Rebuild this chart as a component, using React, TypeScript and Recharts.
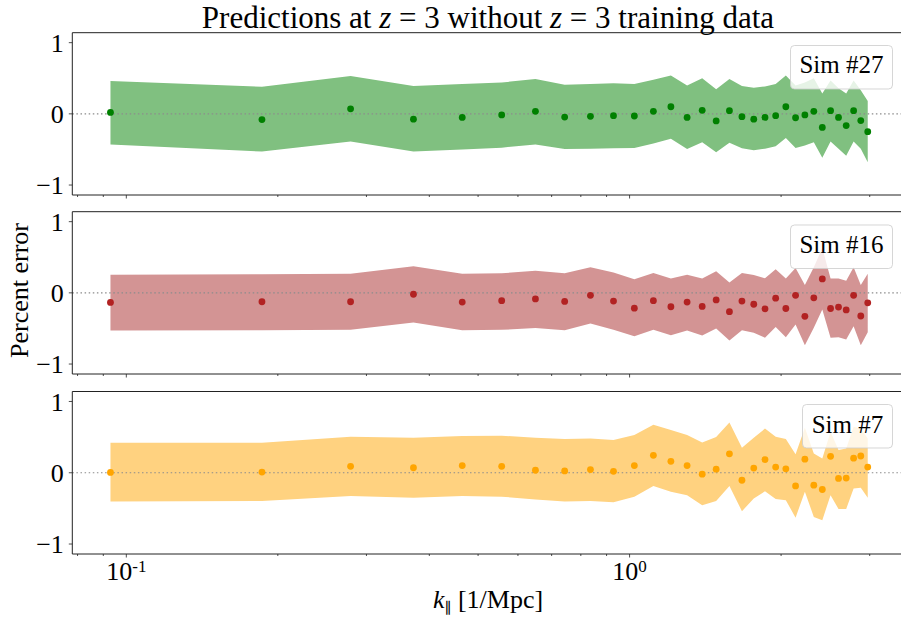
import React from 'react';
import { ComposedChart, Area, Scatter, XAxis, YAxis, ReferenceLine } from 'recharts';

// k_parallel bins [1/Mpc]
const kValues = [
  0.093, 0.186, 0.279, 0.372, 0.465, 0.557, 0.65, 0.743, 0.836, 0.929, 1.022, 1.115, 1.208, 1.301, 1.394, 1.486,
  1.579, 1.672, 1.765, 1.858, 1.951, 2.044, 2.137, 2.23, 2.323, 2.415, 2.508, 2.601, 2.694, 2.787, 2.88, 2.973,
];

// Sim #27
const sim27Mean = [
  0.02, -0.08, 0.07, -0.075, -0.05, -0.015, 0.035, -0.045, -0.035, -0.025, -0.03, 0.035, 0.1, -0.05, 0.05, -0.1,
  0.045, -0.04, -0.075, -0.05, -0.025, 0.1, -0.055, -0.015, 0.035, -0.19, 0.045, -0.05, -0.165, 0.045, -0.095, -0.25,
];
const sim27Hi = [
  0.46, 0.38, 0.53, 0.39, 0.42, 0.44, 0.49, 0.41, 0.42, 0.43, 0.42, 0.48, 0.54, 0.4, 0.5, 0.345,
  0.49, 0.39, 0.365, 0.385, 0.42, 0.54, 0.4, 0.44, 0.5, 0.285, 0.47, 0.36, 0.285, 0.47, 0.33, 0.18,
];
const sim27Lo = [
  -0.43, -0.53, -0.39, -0.53, -0.5, -0.475, -0.43, -0.495, -0.49, -0.485, -0.48, -0.415, -0.35, -0.495, -0.4, -0.54,
  -0.405, -0.485, -0.51, -0.49, -0.455, -0.34, -0.48, -0.445, -0.4, -0.615, -0.39, -0.49, -0.59, -0.39, -0.49, -0.68,
];

// Sim #16
const sim16Mean = [
  -0.135, -0.125, -0.125, -0.02, -0.13, -0.11, -0.085, -0.12, -0.035, -0.115, -0.215, -0.11, -0.195, -0.13, -0.19, -0.1,
  -0.265, -0.115, -0.16, -0.225, -0.075, -0.22, -0.035, -0.33, -0.07, 0.195, -0.22, -0.2, -0.24, -0.035, -0.325, -0.14,
];
const sim16Hi = [
  0.255, 0.26, 0.27, 0.375, 0.27, 0.275, 0.31, 0.275, 0.36, 0.285, 0.19, 0.28, 0.2, 0.255, 0.2, 0.305,
  0.145, 0.28, 0.25, 0.205, 0.33, 0.2, 0.35, 0.11, 0.36, 0.63, 0.2, 0.2, 0.17, 0.36, 0.11, 0.27,
];
const sim16Lo = [
  -0.53, -0.525, -0.52, -0.415, -0.525, -0.52, -0.495, -0.525, -0.43, -0.52, -0.61, -0.52, -0.595, -0.53, -0.6, -0.5,
  -0.67, -0.525, -0.56, -0.63, -0.48, -0.625, -0.445, -0.735, -0.49, -0.235, -0.63, -0.625, -0.655, -0.47, -0.735, -0.555,
];

// Sim #7
const sim7Mean = [
  0.005, 0.01, 0.09, 0.07, 0.1, 0.09, 0.035, 0.025, 0.045, 0.02, 0.1, 0.245, 0.16, 0.1, -0.02, 0.05,
  0.265, -0.105, 0.065, 0.185, 0.08, 0.055, -0.185, 0.19, -0.175, -0.235, 0.23, -0.08, -0.075, 0.205, 0.235, 0.08,
];
const sim7Hi = [
  0.42, 0.42, 0.505, 0.49, 0.515, 0.52, 0.49, 0.475, 0.48, 0.46, 0.53, 0.675, 0.6, 0.53, 0.425, 0.5,
  0.705, 0.35, 0.49, 0.62, 0.505, 0.475, 0.26, 0.63, 0.27, 0.2, 0.575, 0.32, 0.34, 0.645, 0.62, 0.48,
];
const sim7Lo = [
  -0.405, -0.395, -0.325, -0.35, -0.325, -0.335, -0.375, -0.405, -0.395, -0.415, -0.335, -0.185, -0.265, -0.315, -0.455, -0.395,
  -0.185, -0.54, -0.36, -0.26, -0.37, -0.385, -0.63, -0.265, -0.62, -0.665, -0.315, -0.51, -0.51, -0.22, -0.21, -0.35,
];

const xTicks = [0.08, 0.09, 0.1, 0.2, 0.3, 0.4, 0.5, 0.6, 0.7, 0.8, 0.9, 1, 2, 3];
const xMajorTicks = [0.1, 1];
const xMajorExponents = ['-1', '0'];
const yTicks = [-1, 0, 1];

const FONT = '"Liberation Serif", "DejaVu Serif", serif';
const X_DOMAIN: [number, number] = [0.0781, 3.537];
const Y_DOMAIN: [number, number] = [-1.14, 1.14];

const buildRows = (mean: number[], lo: number[], hi: number[]) =>
  kValues.map((k, i) => ({ k, y: mean[i], band: [lo[i], hi[i]] }));

const panels = [
  { name: 'Sim #27', rows: buildRows(sim27Mean, sim27Lo, sim27Hi), dot: '#008000', fill: '#80c080', top: 0, height: 205, marginTop: 32.7, bottom: 5, xAxisHeight: 5, labels: false },
  { name: 'Sim #16', rows: buildRows(sim16Mean, sim16Lo, sim16Hi), dot: '#b22222', fill: '#d39494', top: 200, height: 184, marginTop: 11.7, bottom: 5, xAxisHeight: 5, labels: false },
  { name: 'Sim #7', rows: buildRows(sim7Mean, sim7Lo, sim7Hi), dot: '#ffa500', fill: '#ffd280', top: 380, height: 239, marginTop: 11.5, bottom: 0, xAxisHeight: 65, labels: true },
];

// legend boxes
const legendBoxes = [
  { x: 790.5, y: 45.5, w: 102, h: 43.5, base: 73.3 },
  { x: 790.5, y: 225, w: 102, h: 43.5, base: 253.3 },
  { x: 802.5, y: 404.5, w: 90, h: 43.5, base: 433.3 },
];

const XTick = (props: any) => {
  const { x, y, payload, showLabel } = props;
  const idx = xMajorTicks.indexOf(payload.value);
  const len = idx >= 0 ? 3.5 : 2;
  return (
    <g>
      <line x1={x} x2={x} y1={y} y2={y + len} stroke="#222" strokeWidth={0.8} />
      {showLabel && idx >= 0 && (
        <text x={x} y={y + 26} textAnchor="middle" fontFamily={FONT} fontSize={26} fill="#000">
          10<tspan dy={-8} fontSize={17}>{xMajorExponents[idx]}</tspan>
        </text>
      )}
    </g>
  );
};

const fmtY = (v: number) => (v < 0 ? '\u2212' + Math.abs(v) : String(v));

export default function App() {
  return (
    <div style={{ position: 'fixed', left: 0, top: 0, width: 901, height: 619, overflow: 'hidden', background: '#fff' }}>
      {panels.map((p) => (
        <div key={p.name} style={{ position: 'absolute', left: 0, top: p.top }}>
          <ComposedChart width={910} height={p.height} data={p.rows} margin={{ top: p.marginTop, right: 4.3, bottom: p.bottom, left: 0 }}>
            <XAxis
              dataKey="k"
              type="number"
              scale="log"
              domain={X_DOMAIN}
              allowDataOverflow
              ticks={xTicks}
              interval={0}
              height={p.xAxisHeight}
              tickSize={0}
              tickMargin={0}
              tickLine={false}
              axisLine={{ stroke: '#222', strokeWidth: 1 }}
              tick={<XTick showLabel={p.labels} />}
            />
            <YAxis
              type="number"
              domain={Y_DOMAIN}
              allowDataOverflow
              ticks={yTicks}
              interval={0}
              width={72.3}
              tickSize={3.5}
              tickMargin={5}
              tickFormatter={fmtY}
              axisLine={{ stroke: '#222', strokeWidth: 1 }}
              tickLine={{ stroke: '#222', strokeWidth: 0.8 }}
              tick={{ fontFamily: FONT, fontSize: 26, fill: '#000' }}
            />
            <Area type="linear" dataKey="band" stroke="none" fill={p.fill} fillOpacity={1} isAnimationActive={false} />
            <ReferenceLine y={0} stroke="#8c8c8c" strokeWidth={1.2} strokeDasharray="1.5 2.6" />
            <ReferenceLine y={Y_DOMAIN[1]} stroke="#222" strokeWidth={1} />
            <Scatter
              data={p.rows}
              dataKey="y"
              fill={p.dot}
              isAnimationActive={false}
              shape={(s: any) => <circle cx={s.cx} cy={s.cy} r={3.4} fill={p.dot} />}
            />
          </ComposedChart>
        </div>
      ))}
      <svg width={901} height={619} style={{ position: 'absolute', left: 0, top: 0, pointerEvents: 'none' }}>
        <text x={488} y={28} textAnchor="middle" fontFamily={FONT} fontSize={31} fill="#000">
          Predictions at <tspan fontStyle="italic">z</tspan> = 3 without <tspan fontStyle="italic">z</tspan> = 3 training data
        </text>
        <text transform="translate(28,290.5) rotate(-90)" textAnchor="middle" fontFamily={FONT} fontSize={26} fill="#000">
          Percent error
        </text>
        <text x={488} y={608} textAnchor="middle" fontFamily={FONT} fontSize={26} fill="#000">
          <tspan fontStyle="italic">k</tspan>
          <tspan fontSize={15} dy={5}>∥</tspan>
          <tspan dy={-5}> [1/Mpc]</tspan>
        </text>
        {panels.map((p, i) => {
          const b = legendBoxes[i];
          return (
            <g key={p.name}>
              <rect x={b.x} y={b.y} width={b.w} height={b.h} rx={4} fill="#fff" fillOpacity={0.8} stroke="#cccccc" strokeOpacity={0.8} strokeWidth={1} />
              <text x={b.x + b.w / 2} y={b.base} textAnchor="middle" fontFamily={FONT} fontSize={25} fill="#000">
                {p.name}
              </text>
            </g>
          );
        })}
      </svg>
    </div>
  );
}
